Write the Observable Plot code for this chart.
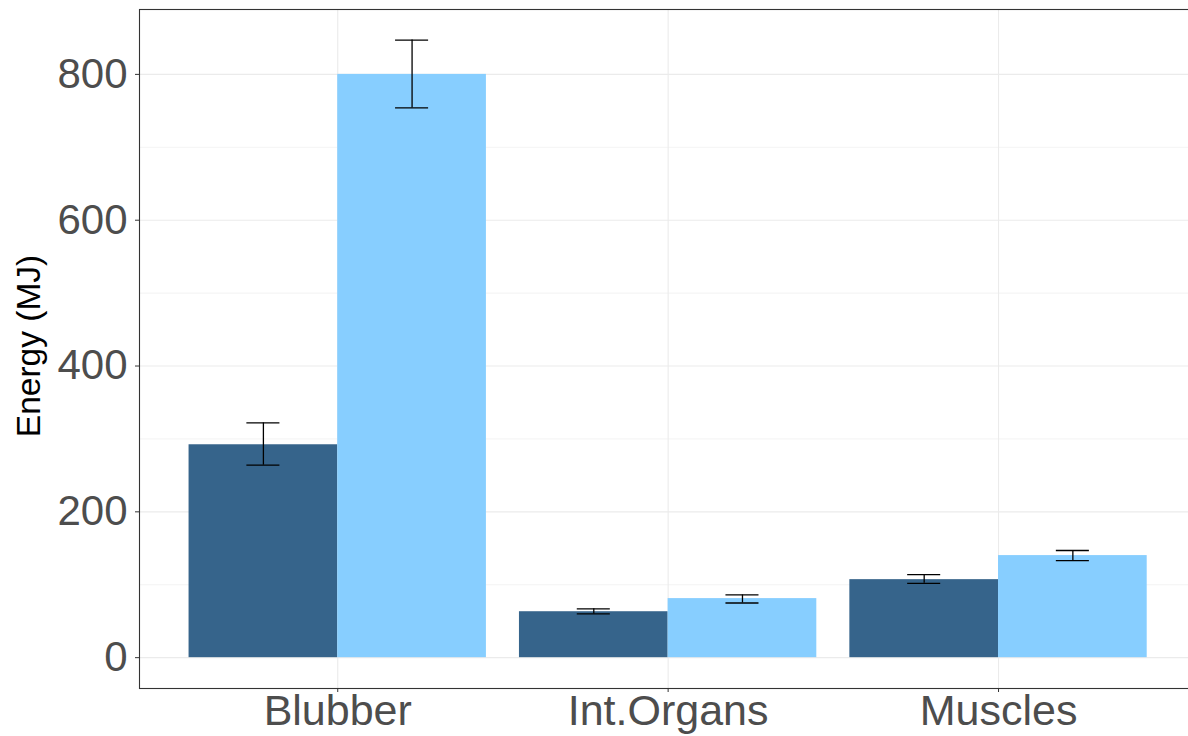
<!DOCTYPE html>
<html>
<head>
<meta charset="utf-8">
<script src="https://cdn.jsdelivr.net/npm/d3@7"></script>
<script src="https://cdn.jsdelivr.net/npm/@observablehq/plot@0.6"></script>
<style>
  html, body { margin: 0; padding: 0; background: #ffffff; }
  #chart svg { display: block; background: #ffffff; }
</style>
</head>
<body>
<div id="chart"></div>
<script>
// ---- data ----
const categories = ["Blubber", "Int.Organs", "Muscles"];
const groups = ["Group 1", "Group 2"];
const valuesGroup1 = [292, 63, 107];
const valuesGroup2 = [800, 81, 140];
const lowerGroup1 = [264, 60, 102];
const upperGroup1 = [322, 67, 114];
const lowerGroup2 = [754, 75, 133];
const upperGroup2 = [847, 86, 147];
const yTicks = [0, 200, 400, 600, 800];
const yMinorTicks = [100, 300, 500, 700];
const yLabel = "Energy (MJ)";

// ---- build table (dodged positions like ggplot: category index ± 0.225) ----
const dodge = 0.45;
const rows = [];
categories.forEach((c, i) => {
  rows.push({category: c, group: groups[0], idx: i + 1, off: -dodge / 2,
             value: valuesGroup1[i], lower: lowerGroup1[i], upper: upperGroup1[i]});
  rows.push({category: c, group: groups[1], idx: i + 1, off: dodge / 2,
             value: valuesGroup2[i], lower: lowerGroup2[i], upper: upperGroup2[i]});
});
rows.forEach(d => { d.pos = d.idx + d.off; });

const colors = ["#36648B", "#87CEFF"];
const capHalf = 0.05;

const chart = Plot.plot({
  width: 1188,
  height: 736,
  marginLeft: 139,
  marginRight: 0,
  marginTop: 9,
  marginBottom: 48,
  style: {fontFamily: "Liberation Sans, Arial, sans-serif", background: "#ffffff"},
  x: {domain: [0.4, 3.575]},
  y: {domain: [-42.3, 889]},
  color: {domain: groups, range: colors},
  marks: [
    Plot.ruleY(yMinorTicks, {stroke: "#EBEBEB", strokeWidth: 0.6}),
    Plot.ruleY(yTicks, {stroke: "#EBEBEB", strokeWidth: 1.1}),
    Plot.ruleX(categories.map((c, i) => i + 1), {stroke: "#EBEBEB", strokeWidth: 1.1}),
    Plot.rectY(rows, {x1: d => d.pos - dodge / 2, x2: d => d.pos + dodge / 2, y1: 0, y2: "value", fill: "group"}),
    Plot.ruleX(rows, {x: "pos", y1: "lower", y2: "upper", stroke: "#000000", strokeWidth: 1.3}),
    Plot.ruleY(rows, {y: "upper", x1: d => d.pos - capHalf, x2: d => d.pos + capHalf, stroke: "#000000", strokeWidth: 1.3}),
    Plot.ruleY(rows, {y: "lower", x1: d => d.pos - capHalf, x2: d => d.pos + capHalf, stroke: "#000000", strokeWidth: 1.3}),
    Plot.axisY({ticks: yTicks, tickSize: 4, tickPadding: 8, fontSize: 42, color: "#4D4D4D", stroke: "#333333", label: null}),
    Plot.axisX({ticks: categories.map((c, i) => i + 1), tickFormat: i => categories[i - 1],
                tickSize: 4, tickPadding: 2, fontSize: 43, color: "#4D4D4D", stroke: "#333333", label: null}),
    Plot.frame({stroke: "#333333", strokeWidth: 1.1, insetRight: -3})
  ]
});

document.getElementById("chart").appendChild(chart);

// y-axis title
const svg = d3.select(chart);
svg.append("text")
  .attr("transform", "translate(40,346) rotate(-90)")
  .attr("text-anchor", "middle")
  .attr("font-family", "Liberation Sans, Arial, sans-serif")
  .attr("font-size", 33.5)
  .attr("fill", "#000000")
  .text(yLabel);
</script>
</body>
</html>
